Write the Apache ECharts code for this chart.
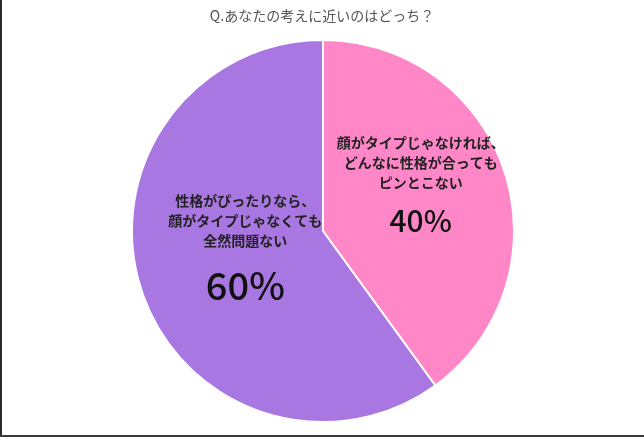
<!DOCTYPE html>
<html>
<head>
<meta charset="utf-8">
<script src="https://cdn.jsdelivr.net/npm/echarts@6/dist/echarts.min.js"></script>
<style>
html,body{margin:0;padding:0;background:#fff;}
#wrap{position:relative;width:644px;height:437px;overflow:hidden;}
#chart{width:644px;height:437px;}
#bl{position:absolute;left:0;top:0;width:2px;height:437px;background:#2a2a2a;}
#bb{position:absolute;left:0;bottom:0;width:644px;height:2px;background:#3a3a3a;}
</style>
</head>
<body>
<div id="wrap"><div id="chart"></div><div id="bl"></div><div id="bb"></div></div>
<script>
const titleText = 'Q.あなたの考えに近いのはどっち？';
const categories = [
  '顔がタイプじゃなければ、\nどんなに性格が合っても\nピンとこない',
  '性格がぴったりなら、\n顔がタイプじゃなくても\n全然問題ない'
];
const values = [40, 60];
const colors = ['#FF87C8', '#A977E2'];

const chart = echarts.init(document.getElementById('chart'), null, {renderer: 'canvas'});
const font = '"Noto Sans CJK JP", "Noto Sans", sans-serif';
chart.setOption({
  backgroundColor: '#fff',
  animation: false,
  title: {
    text: titleText,
    left: 'center',
    top: 4,
    textStyle: {fontFamily: font, fontSize: 14, fontWeight: 'normal', color: '#555'}
  },
  series: [{
    type: 'pie',
    center: [323, 231],
    radius: [0, 191],
    startAngle: 90,
    clockwise: true,
    silent: true,
    itemStyle: {borderColor: '#fff', borderWidth: 2},
    label: {
      show: true,
      position: 'inside',
      formatter: p => '{t|' + p.name.split('\n').join('}\n{t|') + '}\n{p|' + p.value + '%}',
      rich: {
        t: {fontFamily: font, fontSize: 14, fontWeight: 'bold', color: '#222', lineHeight: 20, align: 'center'},
        p: {fontFamily: font, fontSize: 30, fontWeight: 500, color: '#111', lineHeight: 56, align: 'center'}
      }
    },
    labelLine: {show: false},
    data: categories.map((c, i) => ({
      name: c,
      value: values[i],
      itemStyle: {color: colors[i]},
      label: i === 1
        ? {offset: [16, -6], rich: {p: {fontSize: 38, lineHeight: 70, fontFamily: font, fontWeight: 500, color: '#111', align: 'center'}}}
        : {offset: [4, -10]}
    }))
  }]
});
</script>
</body>
</html>
